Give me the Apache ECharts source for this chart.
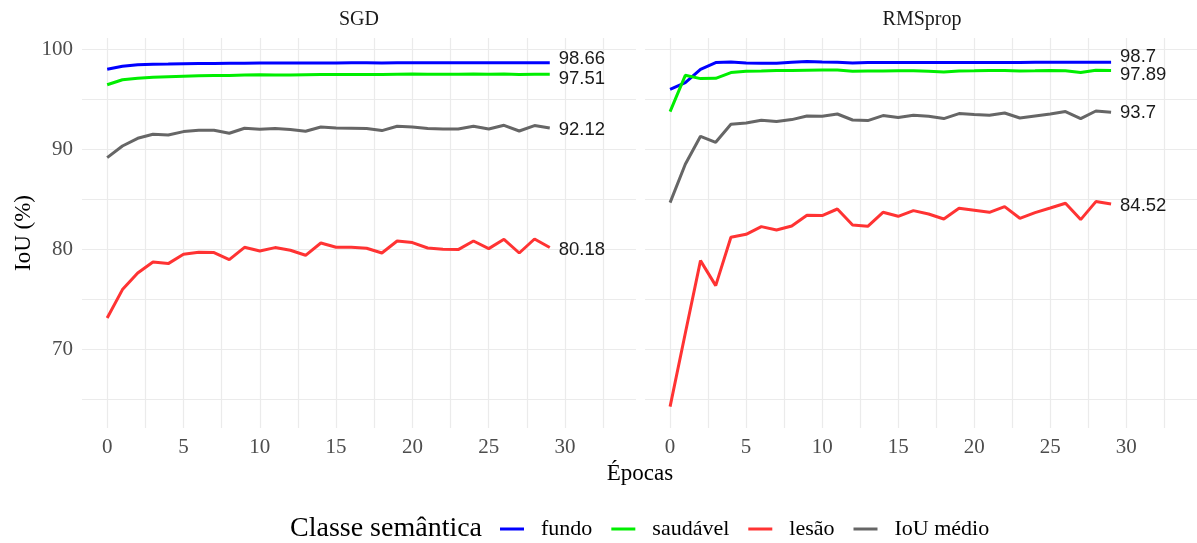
<!DOCTYPE html>
<html>
<head>
<meta charset="utf-8">
<script src="https://cdn.jsdelivr.net/npm/echarts@6/dist/echarts.min.js"></script>
<style>
  html, body { margin: 0; padding: 0; background: #ffffff; }
  #chart { width: 1197px; height: 543px; }
</style>
</head>
<body>
<div id="chart"></div>
<script>
// Epochs shared by both optimisers
const epocas = [0, 1, 2, 3, 4, 5, 6, 7, 8, 9, 10, 11, 12, 13, 14, 15, 16, 17, 18, 19, 20, 21, 22, 23, 24, 25, 26, 27, 28, 29];

// SGD - IoU (%) per semantic class
const sgdFundo = [98.0, 98.3, 98.45, 98.5, 98.52, 98.55, 98.57, 98.58, 98.6, 98.6, 98.62, 98.62, 98.63, 98.63, 98.64, 98.64, 98.65, 98.65, 98.64, 98.65, 98.66, 98.66, 98.65, 98.66, 98.66, 98.66, 98.66, 98.66, 98.66, 98.66];
const sgdSaudavel = [96.45, 96.95, 97.1, 97.2, 97.25, 97.3, 97.35, 97.38, 97.38, 97.42, 97.45, 97.43, 97.44, 97.46, 97.48, 97.47, 97.47, 97.48, 97.47, 97.5, 97.52, 97.5, 97.5, 97.51, 97.52, 97.5, 97.53, 97.49, 97.5, 97.51];
const sgdLesao = [73.13, 75.97, 77.63, 78.73, 78.57, 79.5, 79.7, 79.67, 78.97, 80.2, 79.83, 80.17, 79.9, 79.4, 80.63, 80.2, 80.2, 80.1, 79.63, 80.83, 80.67, 80.13, 80.0, 79.97, 80.83, 80.07, 81.0, 79.63, 81.03, 80.18];
const sgdMedio = [89.17, 90.33, 91.1, 91.5, 91.43, 91.77, 91.9, 91.9, 91.6, 92.1, 92.0, 92.07, 91.97, 91.8, 92.23, 92.13, 92.1, 92.07, 91.87, 92.3, 92.23, 92.07, 92.03, 92.03, 92.3, 92.03, 92.4, 91.83, 92.37, 92.12];

// RMSprop - IoU (%) per semantic class
const rmsFundo = [96.0, 96.67, 98.0, 98.67, 98.73, 98.63, 98.6, 98.6, 98.7, 98.77, 98.73, 98.7, 98.63, 98.67, 98.67, 98.68, 98.67, 98.68, 98.68, 98.68, 98.68, 98.69, 98.69, 98.68, 98.7, 98.7, 98.7, 98.7, 98.7, 98.7];
const rmsSaudavel = [93.77, 97.4, 97.07, 97.1, 97.67, 97.8, 97.83, 97.87, 97.87, 97.9, 97.93, 97.93, 97.8, 97.83, 97.83, 97.85, 97.85, 97.8, 97.73, 97.83, 97.85, 97.88, 97.87, 97.83, 97.85, 97.88, 97.85, 97.67, 97.9, 97.89];
const rmsLesao = [64.27, 71.6, 78.87, 76.37, 81.2, 81.5, 82.27, 81.93, 82.33, 83.4, 83.37, 84.03, 82.43, 82.3, 83.7, 83.3, 83.87, 83.53, 83.03, 84.1, 83.9, 83.7, 84.27, 83.1, 83.67, 84.13, 84.6, 82.97, 84.77, 84.52];
const rmsMedio = [84.67, 88.5, 91.3, 90.7, 92.5, 92.63, 92.9, 92.77, 92.97, 93.33, 93.3, 93.53, 92.93, 92.87, 93.37, 93.17, 93.4, 93.3, 93.07, 93.57, 93.47, 93.4, 93.63, 93.13, 93.33, 93.53, 93.77, 93.07, 93.83, 93.7];

// Panels, classes and axis ticks
const paineis = ['SGD', 'RMSprop'];
const classes = ['fundo', 'saudável', 'lesão', 'IoU médio'];
const coresClasses = ['#0000ff', '#00ee00', '#ff3333', '#666666'];
const xTicks = [0, 2.5, 5, 7.5, 10, 12.5, 15, 17.5, 20, 22.5, 25, 27.5, 30, 32.5];
const xTickLabels = [0, 5, 10, 15, 20, 25, 30];
const yTicks = [65, 70, 75, 80, 85, 90, 95, 100];
const yTickLabels = [70, 80, 90, 100];

const serif = '"Liberation Serif", "DejaVu Serif", serif';
const sans = '"Liberation Sans", Arial, sans-serif';

const valoresPorPainel = [
  [sgdFundo, sgdSaudavel, sgdLesao, sgdMedio],
  [rmsFundo, rmsSaudavel, rmsLesao, rmsMedio]
];
// vertical nudges of the end labels so neighbouring values stay readable
const ajusteRotulos = [
  [-4, 5, 2, 2],
  [-5, 5, 1.5, 1]
];

const chart = echarts.init(document.getElementById('chart'), null, { renderer: 'canvas' });

const grids = [
  { left: 82, top: 38, width: 554, height: 390 },
  { left: 645, top: 38, width: 554, height: 390 }
];

const gridLine = { show: true, lineStyle: { color: '#ebebeb', width: 1.2 } };

const xAxes = grids.map((g, i) => ({
  type: 'value', gridIndex: i, min: -1.65, max: 34.65,
  axisLine: { show: false },
  axisTick: { show: false, customValues: xTicks },
  splitLine: gridLine,
  axisLabel: {
    customValues: xTickLabels, margin: 9,
    fontFamily: serif, fontSize: 21, color: '#4d4d4d'
  }
}));

const yAxes = grids.map((g, i) => ({
  type: 'value', gridIndex: i, min: 62.13, max: 101.13,
  axisLine: { show: false },
  axisTick: { show: false, customValues: yTicks },
  splitLine: gridLine,
  axisLabel: {
    show: i === 0, customValues: yTickLabels, margin: 9,
    fontFamily: serif, fontSize: 21, color: '#4d4d4d'
  },
  name: i === 0 ? 'IoU (%)' : '',
  nameLocation: 'middle', nameRotate: 90, nameGap: 47,
  nameTextStyle: { fontFamily: serif, fontSize: 23, color: '#000' }
}));

const series = [];
paineis.forEach((p, pi) => {
  classes.forEach((c, ci) => {
    const vals = valoresPorPainel[pi][ci];
    series.push({
      type: 'line', name: c,
      xAxisIndex: pi, yAxisIndex: pi,
      data: epocas.map((e, k) => [e, vals[k]]),
      showSymbol: false, symbol: 'none',
      lineStyle: { color: coresClasses[ci], width: 3 },
      itemStyle: { color: coresClasses[ci] },
      endLabel: {
        show: true, distance: 9,
        offset: [0, ajusteRotulos[pi][ci]],
        formatter: (prm) => String(prm.value[1]),
        fontFamily: sans, fontSize: 18.5, color: '#1a1a1a'
      }
    });
  });
});

chart.setOption({
  animation: false,
  backgroundColor: '#ffffff',
  grid: grids,
  xAxis: xAxes,
  yAxis: yAxes,
  legend: {
    data: classes,
    left: 500, top: 518, padding: 0,
    icon: 'rect', itemWidth: 24, itemHeight: 3, itemGap: 19,
    textStyle: { fontFamily: serif, fontSize: 22, color: '#000', padding: [0, 0, 0, 12] }
  },
  graphic: [
    { type: 'text', x: 359, y: 20, style: { text: paineis[0], font: '20px ' + serif, fill: '#1a1a1a', textAlign: 'center', textVerticalAlign: 'middle' } },
    { type: 'text', x: 922, y: 20, style: { text: paineis[1], font: '20px ' + serif, fill: '#1a1a1a', textAlign: 'center', textVerticalAlign: 'middle' } },
    { type: 'text', x: 640, y: 474, style: { text: 'Épocas', font: '23px ' + serif, fill: '#000', textAlign: 'center', textVerticalAlign: 'middle' } },
    { type: 'text', x: 290, y: 529, style: { text: 'Classe semântica', font: '28px ' + serif, fill: '#000', textAlign: 'left', textVerticalAlign: 'middle' } }
  ],
  series: series
});
</script>
</body>
</html>
